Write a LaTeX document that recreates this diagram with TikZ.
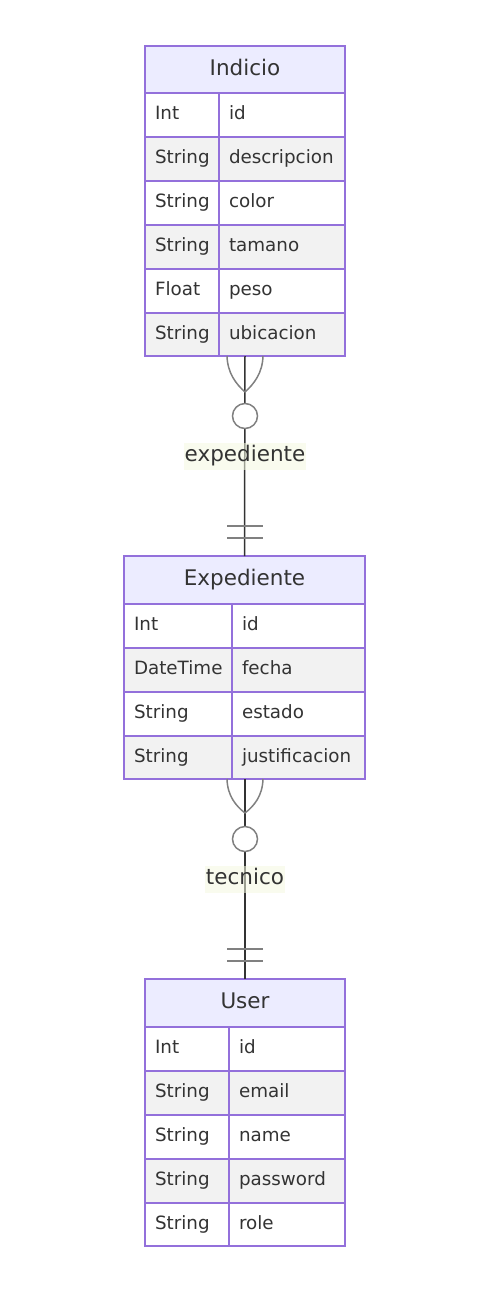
\documentclass[tikz,border=0pt]{standalone}
\usepackage{fontspec}
\setmainfont{DejaVu Sans}
\definecolor{erborder}{HTML}{9370DB}
\definecolor{erhead}{HTML}{ECECFF}
\definecolor{eralt}{HTML}{F2F2F2}
\definecolor{ertext}{HTML}{333333}
\definecolor{erline}{HTML}{333333}
\definecolor{ermark}{HTML}{808080}
\definecolor{erlabel}{HTML}{F4F8E0}
\begin{document}
\begin{tikzpicture}[x=1pt,y=-1pt,
  cell/.style={anchor=north west, inner xsep=10pt, inner ysep=0pt,
    minimum height=44pt, text height=13pt, text depth=4pt, align=left,
    font=\fontsize{18.3}{20}\selectfont, text=ertext, outer sep=0pt},
  lastrow/.style={minimum height=43pt},
  head/.style={fill=erhead, anchor=north west, inner sep=0pt,
    font=\fontsize{21.5}{24}\selectfont, text=ertext, outer sep=0pt, text height=16pt, text depth=5pt},
  border/.style={draw=erborder, line width=1.6pt},
  relline/.style={draw=erline, line width=1.5pt},
  crow/.style={draw=ermark, line width=1.5pt},
  elabel/.style={fill=erlabel, fill opacity=0.55, text opacity=1, text=ertext, inner xsep=1pt, inner ysep=0pt,
    minimum height=27pt, font=\fontsize{21.5}{24}\selectfont, text height=16pt, text depth=5pt}
]
\useasboundingbox (0,0) rectangle (488,1294);

% ---------- Indicio ----------
\node[head,minimum width=200pt,minimum height=47pt] (ih) at (145,46) {Indicio};
\node[cell,fill=white,text width=54pt] (i1t) at (145,93) {Int};
\node[cell,fill=white,text width=106pt] (i1a) at (219,93) {id};
\node[cell,fill=eralt,text width=54pt] (i2t) at (145,137) {String};
\node[cell,fill=eralt,text width=106pt] (i2a) at (219,137) {descripcion};
\node[cell,fill=white,text width=54pt] (i3t) at (145,181) {String};
\node[cell,fill=white,text width=106pt] (i3a) at (219,181) {color};
\node[cell,fill=eralt,text width=54pt] (i4t) at (145,225) {String};
\node[cell,fill=eralt,text width=106pt] (i4a) at (219,225) {tamano};
\node[cell,fill=white,text width=54pt] (i5t) at (145,269) {Float};
\node[cell,fill=white,text width=106pt] (i5a) at (219,269) {peso};
\node[cell,lastrow,fill=eralt,text width=54pt] (i6t) at (145,313) {String};
\node[cell,lastrow,fill=eralt,text width=106pt] (i6a) at (219,313) {ubicacion};

% ---------- Expediente ----------
\node[head,minimum width=241pt,minimum height=48pt] (eh) at (124,556) {Expediente};
\node[cell,fill=white,text width=88pt] (e1t) at (124,604) {Int};
\node[cell,fill=white,text width=113pt] (e1a) at (232,604) {id};
\node[cell,fill=eralt,text width=88pt] (e2t) at (124,648) {DateTime};
\node[cell,fill=eralt,text width=113pt] (e2a) at (232,648) {fecha};
\node[cell,fill=white,text width=88pt] (e3t) at (124,692) {String};
\node[cell,fill=white,text width=113pt] (e3a) at (232,692) {estado};
\node[cell,lastrow,fill=eralt,text width=88pt] (e4t) at (124,736) {String};
\node[cell,lastrow,fill=eralt,text width=113pt] (e4a) at (232,736) {justificacion};

% ---------- User ----------
\node[head,minimum width=200pt,minimum height=48pt] (uh) at (145,979) {User};
\node[cell,fill=white,text width=64pt] (u1t) at (145,1027) {Int};
\node[cell,fill=white,text width=96pt] (u1a) at (229,1027) {id};
\node[cell,fill=eralt,text width=64pt] (u2t) at (145,1071) {String};
\node[cell,fill=eralt,text width=96pt] (u2a) at (229,1071) {email};
\node[cell,fill=white,text width=64pt] (u3t) at (145,1115) {String};
\node[cell,fill=white,text width=96pt] (u3a) at (229,1115) {name};
\node[cell,fill=eralt,text width=64pt] (u4t) at (145,1159) {String};
\node[cell,fill=eralt,text width=96pt] (u4a) at (229,1159) {password};
\node[cell,lastrow,fill=white,text width=64pt] (u5t) at (145,1203) {String};
\node[cell,lastrow,fill=white,text width=96pt] (u5a) at (229,1203) {role};

% ---------- borders drawn over all fills ----------
\foreach \n in {ih,i1t,i1a,i2t,i2a,i3t,i3a,i4t,i4a,i5t,i5a,i6t,i6a,
                eh,e1t,e1a,e2t,e2a,e3t,e3a,e4t,e4a,
                uh,u1t,u1a,u2t,u2a,u3t,u3a,u4t,u4a,u5t,u5a}
  \draw[border] (\n.south west) rectangle (\n.north east);

% ---------- Indicio -- Expediente ----------
\draw[relline] (i6a.south -| ih.center) -- (eh.north);
\draw[crow] (227,356) .. controls (227.5,373) and (236,384) .. (245,392);
\draw[crow] (263,356) .. controls (262.5,373) and (254,384) .. (245,392);
\draw[crow,fill=white] (245,416) circle (12.5);
\draw[crow] (227,526) -- (263,526);
\draw[crow] (227,538) -- (263,538);
\node[elabel] (l1) at (245,456) {expediente};

% ---------- Expediente -- User ----------
\draw[relline] (e4a.south -| uh.center) -- (uh.north);
\draw[crow] (227,779) .. controls (227.5,796) and (236,806) .. (245,813);
\draw[crow] (263,779) .. controls (262.5,796) and (254,806) .. (245,813);
\draw[crow,fill=white] (245,839) circle (12.5);
\draw[crow] (227,949) -- (263,949);
\draw[crow] (227,961) -- (263,961);
\node[elabel] (l2) at (245,879) {tecnico};
\end{tikzpicture}
\end{document}
